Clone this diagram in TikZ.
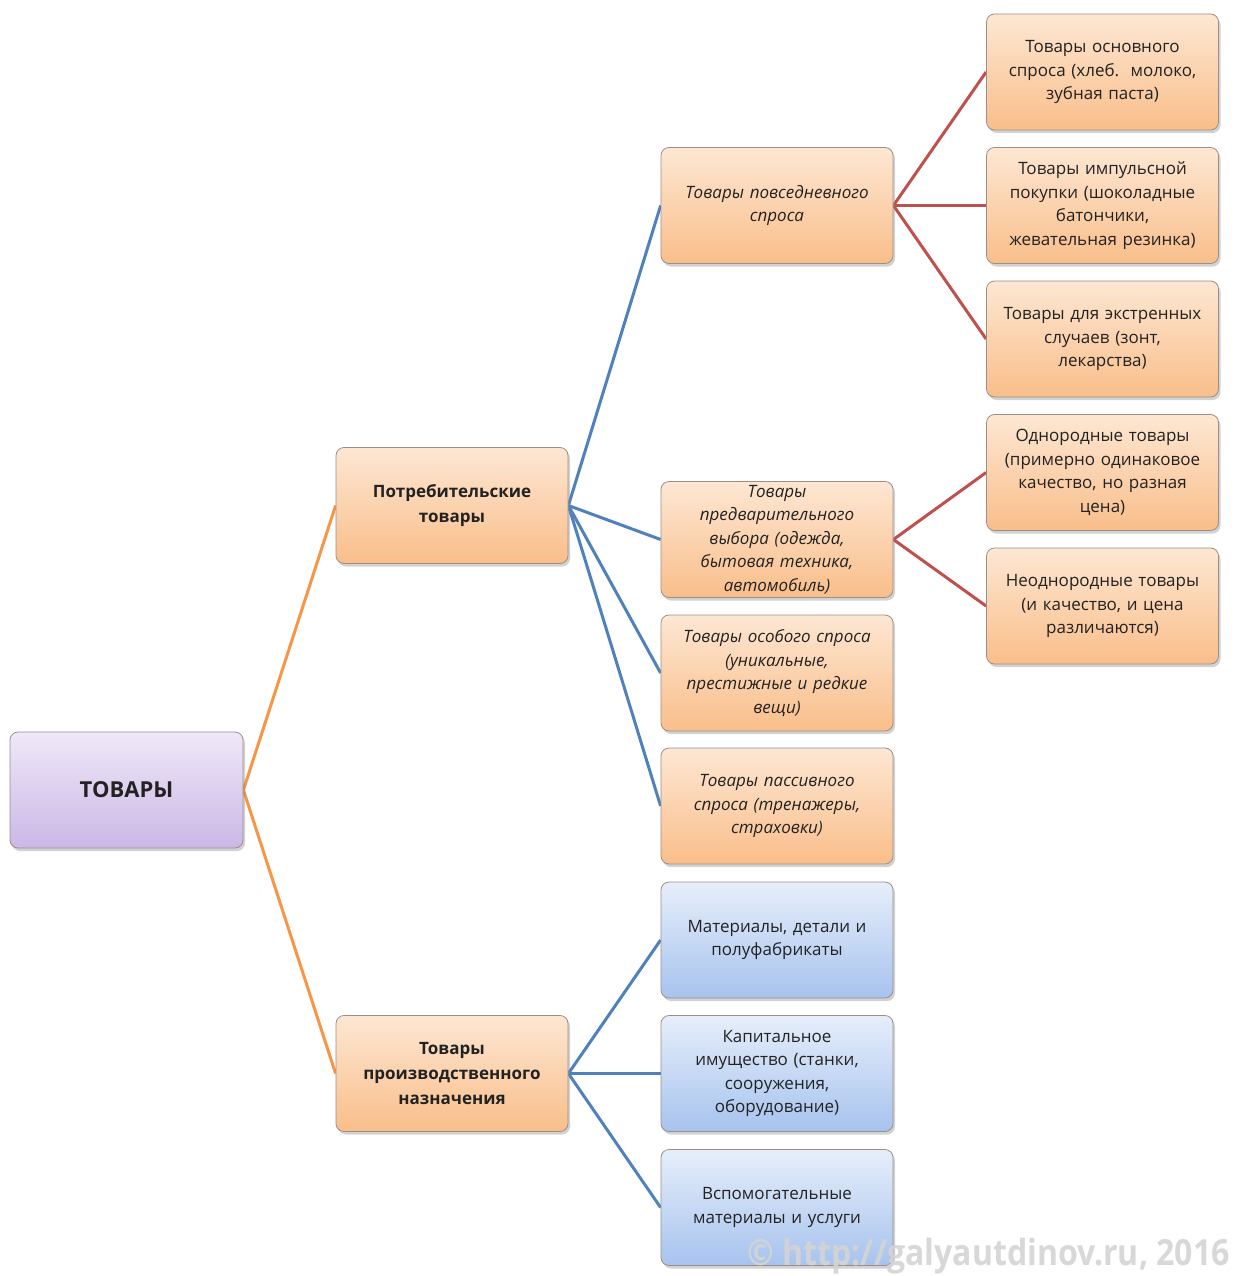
\documentclass[tikz,border=0pt]{standalone}
\usepackage{fontspec}
\setmainfont{Open Sans}
\usetikzlibrary{shadows,backgrounds}
\definecolor{ortop}{HTML}{FDE7D3}
\definecolor{orbot}{HTML}{F9BE8A}
\definecolor{bltop}{HTML}{E6EEFA}
\definecolor{blbot}{HTML}{A7C3EE}
\definecolor{putop}{HTML}{EFE8F8}
\definecolor{pubot}{HTML}{CBB7E6}
\definecolor{boxline}{HTML}{9C8F86}
\definecolor{lnorange}{HTML}{F79646}
\definecolor{lnblue}{HTML}{4F81BD}
\definecolor{lnred}{HTML}{C0504D}
\definecolor{txt}{HTML}{222222}
\tikzset{
  x=1pt, y=-1pt,
  box/.style={rectangle, rounded corners=8pt, draw=boxline, line width=0.8pt,
    minimum width=232pt, minimum height=116pt, text width=222pt, align=center,
    inner sep=0pt, text=txt, font=\fontsize{17}{23.5}\selectfont,
    drop shadow={opacity=0.35, shadow xshift=2pt, shadow yshift=-3pt}},
  orbox/.style={box, top color=ortop, bottom color=orbot},
  blbox/.style={box, top color=bltop, bottom color=blbot},
  itbox/.style={orbox, font=\fontsize{17}{23.5}\selectfont\itshape},
  bdbox/.style={orbox, font=\fontsize{17}{25}\selectfont\bfseries},
  rootbox/.style={box, top color=putop, bottom color=pubot, minimum width=233pt,
    font=\fontsize{22}{26}\selectfont\bfseries},
  link/.style={line width=3pt},
}
\begin{document}
\begin{tikzpicture}
\useasboundingbox (0,0) rectangle (1234,1276);
% root and level 1
\node[rootbox] (root) at (126.5,790) {ТОВАРЫ};
\node[bdbox] (potr) at (452,505.5) {Потребительские\\товары};
\node[bdbox] (proiz) at (452,1073.5) {Товары\\производственного\\назначения};
% level 2
\node[itbox] (povs) at (777,205.5) {Товары повседневного\\спроса};
\node[itbox] (pred) at (777,539.5) {Товары\\предварительного\\выбора (одежда,\\бытовая техника,\\автомобиль)};
\node[itbox] (osob) at (777,673) {Товары особого спроса\\(уникальные,\\престижные и редкие\\вещи)};
\node[itbox] (pass) at (777,806) {Товары пассивного\\спроса (тренажеры,\\страховки)};
\node[blbox] (mat) at (777,940) {Материалы, детали и\\полуфабрикаты};
\node[blbox] (kap) at (777,1073.5) {Капитальное\\имущество (станки,\\сооружения,\\оборудование)};
\node[blbox] (vsp) at (777,1207.5) {Вспомогательные\\материалы и услуги};
% level 3
\node[orbox] (osn) at (1102.5,72) {Товары основного\\спроса (хлеб.\ \ молоко,\\зубная паста)};
\node[orbox] (imp) at (1102.5,205.5) {Товары импульсной\\покупки (шоколадные\\батончики,\\жевательная резинка)};
\node[orbox] (ekst) at (1102.5,339) {Товары для экстренных\\случаев (зонт,\\лекарства)};
\node[orbox] (odn) at (1102.5,472.5) {Однородные товары\\(примерно одинаковое\\качество, но разная\\цена)};
\node[orbox] (neodn) at (1102.5,606) {Неоднородные товары\\(и качество, и цена\\различаются)};
\begin{pgfonlayer}{background}
\fill[white] (0,0) rectangle (1234,1276);
\draw[link, lnorange] (root.east) -- (potr.west);
\draw[link, lnorange] (root.east) -- (proiz.west);
\foreach \c in {povs,pred,osob,pass} \draw[link, lnblue] (potr.east) -- (\c.west);
\foreach \c in {mat,kap,vsp} \draw[link, lnblue] (proiz.east) -- (\c.west);
\foreach \c in {osn,imp,ekst} \draw[link, lnred] (povs.east) -- (\c.west);
\foreach \c in {odn,neodn} \draw[link, lnred] (pred.east) -- (\c.west);
\end{pgfonlayer}
\node[anchor=base east, text=black!17, opacity=0.9, font=\fontsize{36}{36}\selectfont\bfseries, xscale=0.89, inner sep=0pt] (wm) at (1230,1265) {© http://galyautdinov.ru, 2016};
\end{tikzpicture}
\end{document}
